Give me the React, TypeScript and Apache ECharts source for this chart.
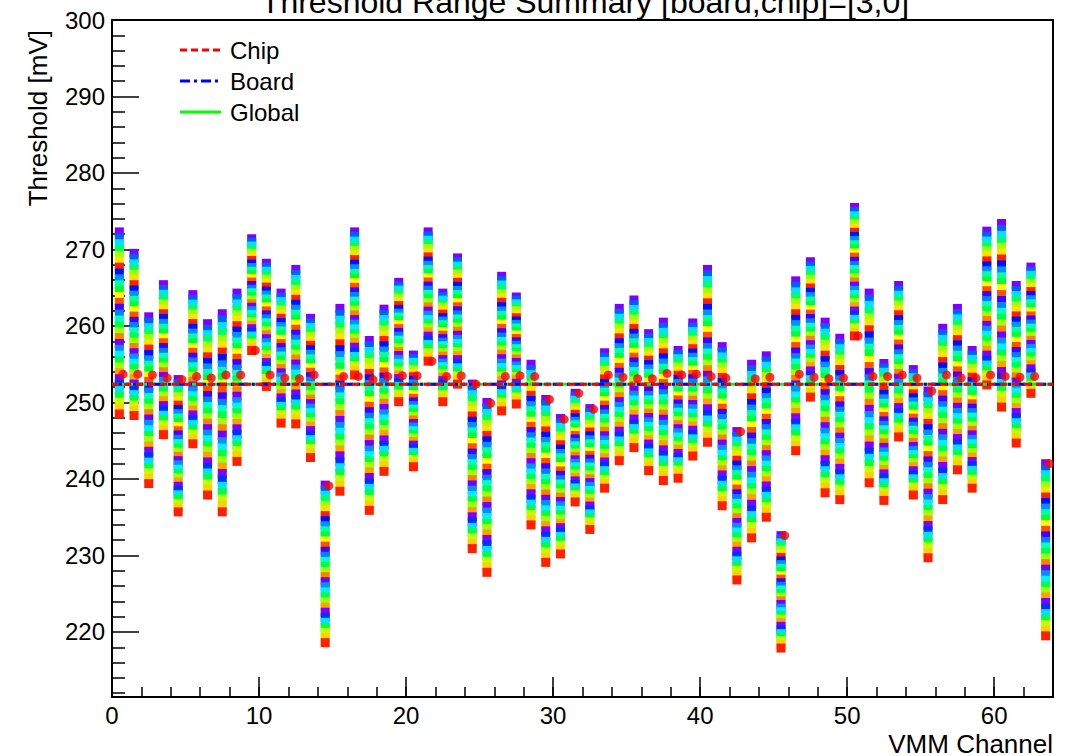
import React, { useEffect, useRef } from "react";
import * as echarts from "echarts";

// Per-channel threshold range (top / bottom marker centres, mV) and the red summary point
const channelMax = [272.3, 269.5, 261.2, 265.4, 253.0, 264.1, 260.3, 261.6, 264.3, 271.4, 268.2, 264.3, 267.4, 261.0, 239.2, 262.3,
  272.3, 258.1, 262.2, 265.7, 256.2, 272.3, 264.3, 268.9, 252.4, 250.0, 266.5, 263.8, 255.0, 250.4, 247.9, 251.2,
  249.2, 256.5, 262.3, 263.4, 259.0, 260.5, 256.8, 260.4, 267.4, 257.3, 246.2, 255.0, 256.1, 232.6, 265.9, 268.4,
  260.5, 258.4, 275.5, 264.3, 255.1, 265.3, 254.3, 251.5, 259.7, 262.3, 256.8, 272.4, 273.4, 265.3, 267.7, 242.0];
const channelMin = [248.5, 248.3, 239.4, 245.8, 235.7, 244.6, 237.9, 235.7, 242.3, 256.8, 252.1, 247.3, 247.2, 242.8, 218.6, 238.4,
  253.6, 235.9, 241.0, 250.1, 241.6, 255.4, 250.1, 252.4, 230.9, 227.8, 248.9, 249.8, 234.0, 229.1, 230.2, 237.0,
  233.4, 238.8, 242.4, 244.1, 241.1, 239.8, 240.1, 243.0, 244.8, 236.5, 226.8, 232.3, 235.0, 217.9, 243.7, 250.7,
  238.2, 237.3, 258.7, 239.5, 237.2, 245.5, 237.9, 229.7, 237.3, 241.2, 238.8, 252.3, 249.4, 244.7, 251.2, 219.5];
const channelPoint = [253.7, 253.7, 253.6, 253.2, 253.0, 253.4, 253.2, 253.6, 253.6, 256.8, 253.6, 253.2, 253.1, 253.6, 239.1, 253.4,
  253.4, 253.0, 253.4, 253.5, 253.5, 255.4, 253.4, 253.5, 252.4, 249.9, 253.4, 253.5, 253.4, 250.4, 247.8, 251.2,
  249.1, 253.6, 253.3, 253.1, 253.1, 253.8, 253.6, 253.7, 253.4, 253.2, 246.2, 253.1, 253.3, 232.6, 253.7, 253.3,
  253.1, 253.2, 258.7, 253.4, 253.4, 253.6, 253.2, 251.5, 253.6, 253.2, 253.2, 253.6, 253.4, 253.3, 253.4, 242.0];

const chipMean = 252.4;
const boardMean = 252.4;
const globalMean = 252.4;

const yMajorTicks = [220, 230, 240, 250, 260, 270, 280, 290, 300];
const yMinorTicks = [212, 214, 216, 218, 222, 224, 226, 228, 232, 234, 236, 238, 242, 244, 246, 248, 252, 254, 256, 258,
  262, 264, 266, 268, 272, 274, 276, 278, 282, 284, 286, 288, 292, 294, 296, 298];

// marker colours, top (purple) to bottom (red)
const PALETTE = ["#8000ff", "#0060ff", "#00e0ff", "#00ff60", "#a0ff00", "#ffe000", "#ff2000", "#0010ff",
  "#0090ff", "#00ffa0", "#00ff30", "#ffff00", "#ff5000", "#4000ff", "#0080ff", "#00ffc0",
  "#00ff40", "#a0ff00", "#ff8000", "#7000ff", "#0090ff", "#00f0ff", "#00ff40", "#a0ff00",
  "#ffa000", "#8000ff", "#0030ff", "#00e0ff", "#00ff40", "#c0ff00", "#ffd000", "#ff2000"];

const FONT = "'Liberation Sans', Arial, Helvetica, sans-serif";

export default function App() {
  const ref = useRef<HTMLDivElement>(null);
  useEffect(() => {
    if (!ref.current) return;
    const chart = echarts.init(ref.current, null, { renderer: "svg" });
    const columns = channelMax.map((hi, i) => [i, hi, channelMin[i]]);
    const dots = channelPoint.map((v, i) => [i + 0.75, v]);
    const axisCommon = { type: "value", min: 0, max: 64, splitLine: { show: false } };
    const yCommon = { type: "value", min: 211.5, max: 300, splitLine: { show: false } };
    chart.setOption({
      animation: false,
      backgroundColor: "#ffffff",
      grid: { left: 112, right: 24, top: 20, bottom: 59, show: true, borderColor: "#000", borderWidth: 2, backgroundColor: "transparent" },
      xAxis: [
        {
          ...axisCommon, interval: 10,
          axisLine: { lineStyle: { color: "#000", width: 2 } },
          axisTick: { inside: true, length: 20, lineStyle: { color: "#000", width: 1.5 } },
          axisLabel: { showMaxLabel: false, fontSize: 24, color: "#000", fontFamily: FONT, margin: 6 },
        },
        {
          ...axisCommon, interval: 2, position: "bottom",
          axisLine: { show: false },
          axisTick: { inside: true, length: 10, lineStyle: { color: "#000", width: 1.5 } },
          axisLabel: { show: false },
        },
      ],
      yAxis: [
        {
          ...yCommon,
          axisLine: { lineStyle: { color: "#000", width: 2 } },
          axisTick: { inside: true, length: 27, customValues: yMajorTicks, lineStyle: { color: "#000", width: 1.5 } },
          axisLabel: { customValues: yMajorTicks, fontSize: 24, color: "#000", fontFamily: FONT, margin: 7 },
        },
        {
          ...yCommon, position: "left",
          axisLine: { show: false },
          axisTick: { inside: true, length: 13, customValues: yMinorTicks, lineStyle: { color: "#000", width: 1.5 } },
          axisLabel: { show: false, customValues: yMinorTicks },
        },
      ],
      series: [
        {
          type: "custom",
          xAxisIndex: 0, yAxisIndex: 0,
          data: columns,
          encode: { x: 0, y: [1, 2] },
          renderItem: (params: any, api: any) => {
            const c = api.value(0);
            const pHi = api.coord([c + 0.5, api.value(1)]);
            const pLo = api.coord([c + 0.5, api.value(2)]);
            const n = PALETTE.length;
            const children: any[] = [];
            for (let k = 0; k < n; k++) {
              const y = pHi[1] + ((pLo[1] - pHi[1]) * k) / (n - 1);
              children.push({
                type: "rect",
                shape: { x: pHi[0] - 4.5, y: y - 4.5, width: 9, height: 9 },
                style: { fill: PALETTE[k] },
              });
            }
            return { type: "group", children };
          },
          z: 2,
        },
        {
          type: "line", name: "Global", xAxisIndex: 0, yAxisIndex: 0, symbol: "none",
          data: [[0, globalMean], [64, globalMean]],
          lineStyle: { color: "#00ff00", width: 3, type: "solid" }, z: 3,
        },
        {
          type: "line", name: "Board", xAxisIndex: 0, yAxisIndex: 0, symbol: "none",
          data: [[0, boardMean], [64, boardMean]],
          lineStyle: { color: "#0000ff", width: 3, type: [10, 4, 3, 4] }, z: 4,
        },
        {
          type: "line", name: "Chip", xAxisIndex: 0, yAxisIndex: 0, symbol: "none",
          data: [[0, chipMean], [64, chipMean]],
          lineStyle: { color: "#ff0000", width: 3, type: [7, 5] }, z: 5,
        },
        {
          type: "scatter", xAxisIndex: 0, yAxisIndex: 0,
          data: dots, symbol: "circle", symbolSize: 9,
          itemStyle: { color: "#ff0000" }, z: 6,
        },
      ],
      graphic: [
        { type: "text", x: 585, y: 2, style: { text: "Threshold Range Summary [board,chip]=[3,0]", fontSize: 32, fontFamily: FONT, fill: "#000", align: "center", verticalAlign: "middle" } },
        { type: "text", x: 38, y: 30, rotation: Math.PI / 2, style: { text: "Threshold [mV]", fontSize: 26, fontFamily: FONT, fill: "#000", align: "right", verticalAlign: "middle" } },
        { type: "text", x: 1053, y: 744, style: { text: "VMM Channel", fontSize: 26, fontFamily: FONT, fill: "#000", align: "right", verticalAlign: "middle" } },
        { type: "line", shape: { x1: 180, y1: 50, x2: 221, y2: 50 }, style: { stroke: "#ff0000", lineWidth: 3, lineDash: [7, 4] } },
        { type: "text", x: 230, y: 50, style: { text: "Chip", fontSize: 24, fontFamily: FONT, fill: "#000", verticalAlign: "middle" } },
        { type: "line", shape: { x1: 180, y1: 81, x2: 221, y2: 81 }, style: { stroke: "#0000ff", lineWidth: 3, lineDash: [10, 4, 3, 4] } },
        { type: "text", x: 230, y: 81, style: { text: "Board", fontSize: 24, fontFamily: FONT, fill: "#000", verticalAlign: "middle" } },
        { type: "line", shape: { x1: 180, y1: 112, x2: 221, y2: 112 }, style: { stroke: "#00ff00", lineWidth: 3 } },
        { type: "text", x: 230, y: 112, style: { text: "Global", fontSize: 24, fontFamily: FONT, fill: "#000", verticalAlign: "middle" } },
      ],
    } as any);
    return () => chart.dispose();
  }, []);
  return <div ref={ref} style={{ position: "fixed", left: 0, top: 0, width: 1077, height: 756, background: "#fff" }} />;
}
